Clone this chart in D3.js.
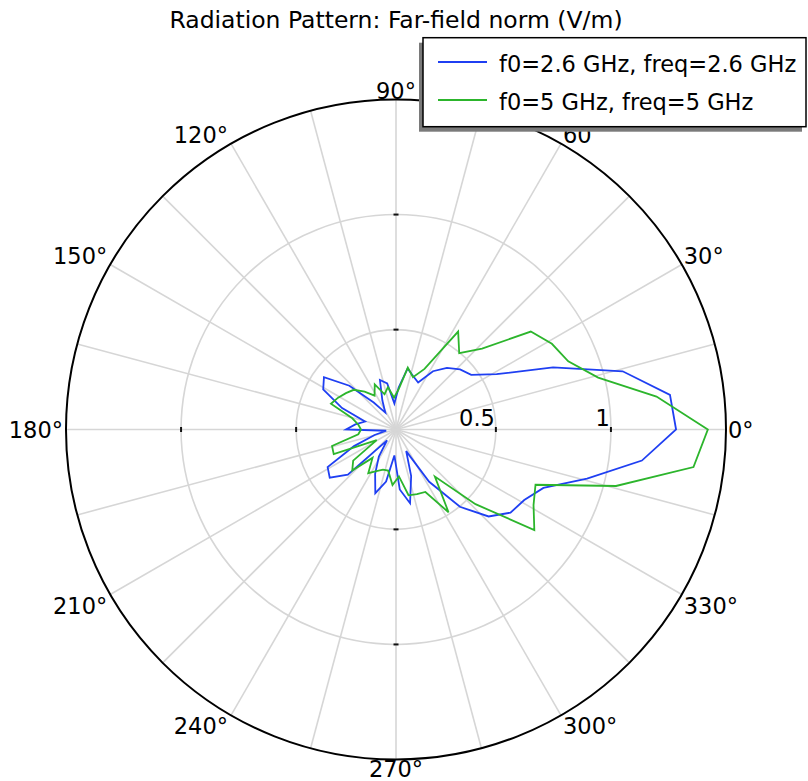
<!DOCTYPE html>
<html><head><meta charset="utf-8">
<script src="https://cdn.jsdelivr.net/npm/d3@7"></script>
<style>body{margin:0;background:#fff} svg{display:block;font-family:"DejaVu Sans",sans-serif}</style>
</head><body><svg id="chart" width="808" height="781"></svg>
<script>
const angles = [0,7.2,14.4,21.6,28.8,36,43.2,50.4,57.6,64.8,72,79.2,86.4,93.6,100.8,108,115.2,122.4,129.6,136.8,144,151.2,158.4,165.6,172.8,180,187.2,194.4,201.6,208.8,216,223.2,230.4,237.6,244.8,252,259.2,266.4,273.6,280.8,288,295.2,302.4,309.6,316.8,324,331.2,338.4,345.6,352.8];
const blueValues = [1.283,1.266,1.083,0.800,0.565,0.470,0.448,0.413,0.366,0.292,
 0.309,0.336,0.249,0.179,0.270,0.292,0.205,0.153,0.218,0.344,
 0.453,0.427,0.318,0.205,0.244,0.283,0.109,0.162,0.262,0.405,
 0.422,0.353,0.127,0.205,0.279,0.357,0.296,0.179,0.327,0.392,
 0.279,0.170,0.335,0.502,0.618,0.681,0.702,0.755,0.923,1.143];
const greenValues = [1.421,1.207,0.973,0.871,0.839,0.790,0.579,0.497,0.570,0.357,
 0.305,0.340,0.240,0.205,0.253,0.227,0.283,0.240,0.280,0.318,
 0.335,0.353,0.370,0.262,0.231,0.218,0.231,0.353,0.357,0.162,
 0.296,0.327,0.226,0.291,0.266,0.249,0.248,0.308,0.270,0.357,
 0.361,0.366,0.492,0.331,0.540,0.809,0.748,0.718,1.053,1.369];
const seriesNames = ["f0=2.6 GHz, freq=2.6 GHz", "f0=5 GHz, freq=5 GHz"];
const seriesColors = ["#1f3ff2", "#2cb52c"];
const angleTicks = [0,30,60,90,120,150,180,210,240,270,300,330];
const angleTickLabels = ["0°","30°","60","90°","120°","150°","180°","210°","240°","270°","300°","330°"];
const spokeAngles = [0,15,30,45,60,75,90,105,120,135,150,165,180,195,210,225,240,255,270,285,300,315,330,345];
const radialTicks = [0.5, 1];
const radialTickLabels = ["0.5", "1"];
const radialDomain = [0.066, 1.5];
const titleText = "Radiation Pattern: Far-field norm (V/m)";

const svg = d3.select("#chart");
const cx = 396, cy = 429.5, R = 330;
const r = d3.scaleLinear().domain(radialDomain).range([0, R]);
const toRad = d3.scaleLinear().domain([0, 360]).range([0, 2 * Math.PI]);
const px = (a, v) => cx + r(v) * Math.cos(toRad(a));
const py = (a, v) => cy - r(v) * Math.sin(toRad(a));
const g = svg.append("g");
const FS = 22.5;

// grid spokes
g.selectAll("line.spoke").data(spokeAngles).join("line")
  .attr("x1", cx).attr("y1", cy)
  .attr("x2", a => px(a, radialDomain[1])).attr("y2", a => py(a, radialDomain[1]))
  .attr("stroke", "#d6d6d6").attr("stroke-width", 1.6);
// grid circles
g.selectAll("circle.grid").data(radialTicks).join("circle")
  .attr("cx", cx).attr("cy", cy).attr("r", d => r(d))
  .attr("fill", "none").attr("stroke", "#d6d6d6").attr("stroke-width", 1.6);

// series
const line = d3.line().x(d => px(d[0], d[1])).y(d => py(d[0], d[1])).curve(d3.curveLinearClosed);
[blueValues, greenValues].forEach((vals, k) => {
  g.append("path").datum(angles.map((a, i) => [a, vals[i]]))
    .attr("d", line).attr("fill", "none")
    .attr("stroke", seriesColors[k]).attr("stroke-width", 1.8).attr("stroke-linejoin", "miter");
});

// outer circle
g.append("circle").attr("cx", cx).attr("cy", cy).attr("r", R)
  .attr("fill", "none").attr("stroke", "#000").attr("stroke-width", 2);

// radial ticks on four axes
[0, 90, 180, 270].forEach(a => {
  radialTicks.forEach(v => {
    const x = px(a, v), y = py(a, v);
    const horiz = (a === 0 || a === 180);
    g.append("line")
      .attr("x1", horiz ? x : x - 2.5).attr("x2", horiz ? x : x + 2.5)
      .attr("y1", horiz ? y - 2.5 : y).attr("y2", horiz ? y + 2.5 : y)
      .attr("stroke", "#111").attr("stroke-width", 2);
  });
});
// radial tick labels
g.selectAll("text.rtick").data(radialTicks).join("text")
  .attr("x", d => px(0, d) - 1).attr("y", cy - 4)
  .attr("text-anchor", "end").attr("font-size", FS).attr("fill", "#000")
  .text((d, i) => radialTickLabels[i]);

// angle labels
angleTicks.forEach((a, i) => {
  const c = Math.cos(toRad(a)), s = Math.sin(toRad(a));
  const x0 = cx + R * c, y0 = cy - R * s;
  let anchor = "middle", x = x0, y = y0;
  if (c > 0.01) { anchor = "start"; x = x0 + 2; }
  else if (c < -0.01) { anchor = "end"; x = x0 - 3; }
  if (s > 0.01) y = y0 - 1;
  else if (s < -0.01) y = Math.min(y0 + 19, 777);
  else y = y0 + 8;
  g.append("text").attr("x", x).attr("y", y).attr("text-anchor", anchor)
    .attr("font-size", FS).attr("fill", "#000").text(angleTickLabels[i]);
});

// title
svg.append("text").attr("x", cx).attr("y", 28).attr("text-anchor", "middle")
  .attr("font-size", 23.5).attr("fill", "#000").text(titleText);

// legend
const lx = 423, ly = 37.7, lw = 383, lh = 89;
const leg = svg.append("g");
leg.append("rect").attr("x", lx - 4).attr("y", ly + 5).attr("width", lw).attr("height", lh).attr("fill", "#7a7a7a");
leg.append("rect").attr("x", lx).attr("y", ly).attr("width", lw).attr("height", lh)
  .attr("fill", "#fff").attr("stroke", "#000").attr("stroke-width", 1.5);
seriesNames.forEach((name, k) => {
  const yy = 62 + k * 38;
  leg.append("line").attr("x1", 438).attr("x2", 487).attr("y1", yy).attr("y2", yy)
    .attr("stroke", seriesColors[k]).attr("stroke-width", 1.8);
  leg.append("text").attr("x", 499).attr("y", yy + 9.5).attr("font-size", FS).attr("fill", "#000").text(name);
});
</script></body></html>
